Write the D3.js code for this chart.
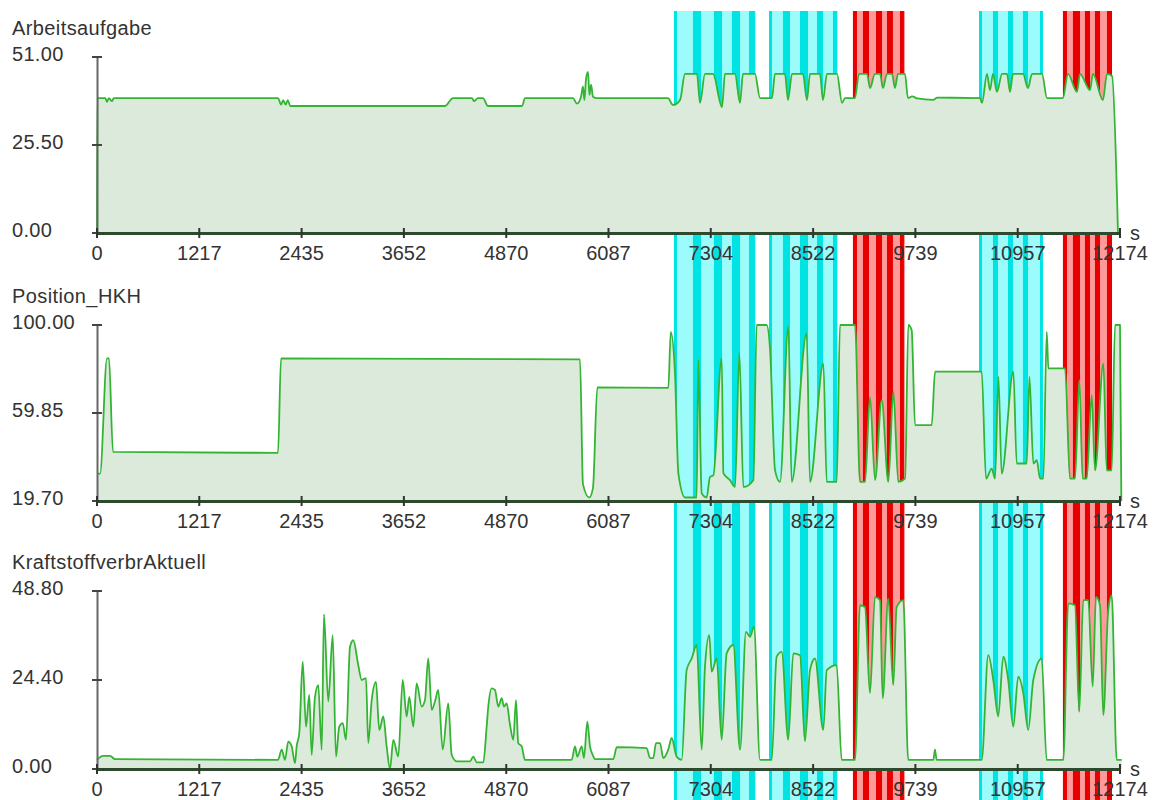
<!DOCTYPE html>
<html>
<head>
<meta charset="utf-8">
<script src="https://cdn.jsdelivr.net/npm/d3@7"></script>
<style>
  body { margin: 0; background: #fff; }
  svg text { font-family: "Liberation Sans", Arial, sans-serif; fill: #333; }
</style>
</head>
<body>
<script>
var width = 1155,
    height = 800;

// x ticks (seconds)
var xTicks = [0, 1217, 2435, 3652, 4870, 6087, 7304, 8522, 9739, 10957, 12174];

// highlighted cycles: [start, end], dark stripes inside
var cyanBands = [
  {start: 6866, end: 7842, stripes: [[6866, 6902], [7092, 7188], [7342, 7438], [7557, 7652], [7759, 7830]]},
  {start: 7997, end: 8818, stripes: [[7997, 8033], [8163, 8247], [8366, 8461], [8568, 8639], [8758, 8806]]},
  {start: 10496, end: 11257, stripes: [[10496, 10532], [10662, 10722], [10841, 10900], [11019, 11079], [11222, 11257]]}
];
var redBands = [
  {start: 8996, end: 9615, stripes: [[8996, 9044], [9115, 9187], [9270, 9342], [9401, 9472], [9556, 9603]]},
  {start: 11495, end: 12079, stripes: [[11495, 11543], [11614, 11698], [11757, 11817], [11876, 11936], [12019, 12079]]}
];

var arbeitsaufgabe = [
  [0,0],[5,39.1],[100,39.1],[119,38.0],[140,39.1],[179,38.2],[200,39.1],[2154,39.1],[2190,37.2],[2215,38.5],
  [2245,37.2],[2270,38.5],[2300,36.8],[4141,36.8],[4236,39.1],[4463,39.1],[4486,38.2],[4534,39.1],[4593,39.1],
  [4653,36.8],[5058,36.8],[5093,39.1],[5664,39.1],[5712,37.5],[5760,39.5],[5783,42.5],[5800,38.5],[5819,44.5],
  [5843,46.7],[5860,40.0],[5880,43.0],[5902,39.5],[5950,39.1],[6795,39.1],[6854,37.1],[6938,38.5],[6997,46.1],
  [7140,46.1],[7176,37.7],[7235,46.1],[7330,46.1],[7438,36.5],[7473,46.1],[7592,46.1],[7652,37.7],[7687,46.1],
  [7830,46.1],[7890,39.1],[8033,39.1],[8068,46.1],[8187,46.1],[8223,38.5],[8271,46.1],[8401,46.1],[8449,38.5],
  [8485,46.1],[8604,46.1],[8639,38.5],[8687,46.1],[8806,46.1],[8866,37.7],[8901,39.1],[9020,39.1],[9068,46.1],
  [9163,46.1],[9199,42.0],[9258,46.1],[9318,46.1],[9353,42.0],[9401,46.1],[9461,46.1],[9496,42.0],[9532,46.1],
  [9615,46.1],[9651,39.1],[9700,39.6],[9760,39.0],[9950,38.6],[10000,39.2],[10508,39.1],[10532,37.7],[10591,46.1],
  [10627,41.4],[10662,46.1],[10710,40.9],[10770,46.1],[10829,46.1],[10865,40.9],[10900,46.1],[11020,46.1],
  [11079,42.0],[11127,46.1],[11246,46.1],[11305,39.1],[11495,39.1],[11555,46.1],[11662,40.9],[11698,46.1],
  [11817,41.4],[11852,46.1],[11971,38.5],[12019,46.1],[12079,45.5],[12150,0]
];

var positionHKH = [
  [0,32.2],[36,32.2],[119,84.8],[143,84.8],[190,42.1],[2154,41.7],[2190,84.8],[5748,84.3],[5783,27.4],[5858,21.3],
  [5902,25.6],[5954,71.5],[6799,71.3],[6828,96.9],[6879,77.1],[6918,32.4],[6998,21.3],[7136,21.3],[7156,84.0],
  [7196,23.2],[7255,21.3],[7295,30.7],[7335,31.4],[7434,84.8],[7454,32.4],[7533,29.2],[7593,26.1],[7644,87.1],
  [7692,26.1],[7811,29.2],[7850,100],[7969,100],[8009,89.3],[8069,33.7],[8128,28.4],[8227,99.2],[8267,28.4],
  [8445,96.2],[8485,28.4],[8644,82.5],[8684,28.4],[8803,28.4],[8842,100],[9021,100],[9080,28.4],[9140,28.4],
  [9199,67.2],[9259,29.2],[9338,65.7],[9417,28.4],[9477,69.5],[9536,28.4],[9616,29.9],[9655,100],[9695,97.7],
  [9735,54.3],[9933,54.3],[9973,78.7],[10528,78.7],[10580,29.9],[10647,34.5],[10687,29.9],[10727,76.4],
  [10766,32.2],[10905,78.7],[10945,36.8],[11064,36.8],[11096,76.4],[11143,36.8],[11183,38.3],[11223,29.9],
  [11262,29.9],[11302,96.9],[11322,80.2],[11520,80.2],[11579,29.9],[11639,29.9],[11690,74.9],[11730,29.9],
  [11778,29.9],[11837,68.0],[11877,33.7],[11976,82.5],[12016,33.7],[12075,33.7],[12115,100],[12174,100],[12190,19.7]
];

var kraftstoff = [
  [0,2.5],[71,3.6],[155,3.6],[214,2.7],[2154,2.5],[2198,5.3],[2237,2.5],[2276,7.5],[2317,6.2],[2356,1.6],
  [2376,6.2],[2407,9.8],[2448,29.4],[2487,11.6],[2526,20.3],[2555,3.9],[2594,19.8],[2633,23.0],[2674,5.3],
  [2701,42.4],[2752,18.5],[2805,36.7],[2844,3.4],[2883,11.6],[2924,12.6],[2963,8.0],[3011,33.5],[3050,35.3],
  [3109,28.5],[3150,24.4],[3201,24.9],[3228,7.1],[3269,18.9],[3320,23.9],[3359,10.7],[3407,14.4],[3447,6.2],
  [3487,0],[3526,8.0],[3585,3.4],[3638,24.4],[3685,14.4],[3716,19.8],[3764,11.6],[3804,23.5],[3864,17.1],
  [3903,18.9],[3942,30.3],[3983,16.2],[4022,18.5],[4061,21.7],[4114,5.3],[4180,18.0],[4221,3.9],[4280,2.1],
  [4439,2.1],[4478,3.4],[4519,1.8],[4597,1.8],[4637,11.6],[4656,17.0],[4697,22.1],[4736,21.7],[4775,17.1],
  [4816,19.4],[4843,17.1],[4875,18.0],[4915,12.1],[4954,8.0],[4986,18.9],[5013,7.1],[5054,6.2],[5093,2.5],
  [5649,2.5],[5688,6.2],[5716,3.4],[5768,6.2],[5795,3.0],[5835,13.0],[5867,6.2],[5899,3.9],[5926,2.7],
  [6144,2.7],[6185,6.0],[6541,5.7],[6581,3.0],[6620,3.0],[6652,7.1],[6700,7.1],[6739,3.0],[6798,5.3],
  [6839,8.5],[6898,3.4],[6958,2.5],[7017,27.1],[7077,30.3],[7136,34.0],[7196,5.3],[7235,28.0],[7286,36.7],
  [7315,26.7],[7374,30.3],[7434,8.0],[7493,31.7],[7572,34.0],[7652,5.3],[7723,37.6],[7771,36.2],[7818,39.0],
  [7890,2.5],[8029,2.5],[8088,30.8],[8148,32.1],[8226,8.0],[8286,31.7],[8366,31.2],[8425,7.6],[8485,27.1],
  [8544,30.3],[8643,10.7],[8684,27.1],[8802,28.5],[8862,2.5],[9020,2.5],[9080,44.9],[9139,44.4],[9199,20.8],
  [9258,47.2],[9318,46.3],[9350,19.4],[9416,46.7],[9476,23.0],[9516,44.4],[9595,46.3],[9654,2.5],[9952,2.5],
  [9972,5.3],[9992,2.5],[10528,2.5],[10606,31.2],[10666,24.4],[10725,14.4],[10785,30.8],[10844,24.4],
  [10904,11.6],[10963,25.3],[11023,20.8],[11082,10.7],[11142,24.4],[11242,30.3],[11301,2.5],[11499,2.5],
  [11558,45.4],[11638,44.9],[11689,15.7],[11737,46.3],[11796,46.3],[11849,22.6],[11888,47.2],[11936,44.9],
  [11975,14.8],[12034,43.5],[12075,47.6],[12135,2.5],[12194,2.5]
];

var panels = [
  {title: "Arbeitsaufgabe", data: arbeitsaufgabe, yTicks: [0, 25.5, 51], top: 57, bottom: 233},
  {title: "Position_HKH", data: positionHKH, yTicks: [19.7, 59.85, 100], top: 325, bottom: 501},
  {title: "KraftstoffverbrAktuell", data: kraftstoff, yTicks: [0, 24.4, 48.8], top: 591, bottom: 769}
];

var svg = d3.select("body").append("svg")
    .attr("width", width)
    .attr("height", height);

var x = d3.scaleLinear()
    .domain([0, 12174])
    .range([97, 1120]);

// bands behind everything
var bandG = svg.append("g");
function drawBands(list, light, dark) {
  list.forEach(function(b) {
    bandG.append("rect")
      .attr("x", x(b.start)).attr("y", 11)
      .attr("width", x(b.end) - x(b.start)).attr("height", height - 11)
      .attr("fill", light);
    b.stripes.forEach(function(s) {
      bandG.append("rect")
        .attr("x", x(s[0])).attr("y", 11)
        .attr("width", x(s[1]) - x(s[0])).attr("height", height - 11)
        .attr("fill", dark);
    });
  });
}
drawBands(cyanBands, "#9cfcfc", "#00e3e3");
drawBands(redBands, "#ff9a9a", "#e80000");

panels.forEach(function(p) {
  var yMin = p.yTicks[0], yMax = p.yTicks[2];
  var y = d3.scaleLinear().domain([yMin, yMax]).range([p.bottom, p.top]);
  var g = svg.append("g");

  var area = d3.area()
      .curve(d3.curveMonotoneX)
      .x(function(d) { return x(d[0]); })
      .y0(y(yMin))
      .y1(function(d) { return y(d[1]); });
  var line = d3.line()
      .curve(d3.curveMonotoneX)
      .x(function(d) { return x(d[0]); })
      .y(function(d) { return y(d[1]); });

  g.append("path").datum(p.data)
    .attr("d", area)
    .attr("fill", "#dbeadb");
  g.append("path").datum(p.data)
    .attr("d", line)
    .attr("fill", "none")
    .attr("stroke", "#33b533")
    .attr("stroke-width", 1.8)
    .attr("stroke-linejoin", "round");

  // y axis
  var yAxis = g.append("g")
    .attr("transform", "translate(" + x(0) + ",0)")
    .call(d3.axisLeft(y).tickValues(p.yTicks).tickSize(0).tickFormat(""));
  yAxis.select(".domain").attr("stroke", "#666").attr("stroke-width", 2);
  p.yTicks.forEach(function(t) {
    g.append("line")
      .attr("x1", x(0) - 5).attr("x2", x(0) + 5)
      .attr("y1", y(t)).attr("y2", y(t))
      .attr("stroke", "#444").attr("stroke-width", 2);
    g.append("text")
      .attr("x", 12).attr("y", y(t) - 1)
      .attr("dominant-baseline", "middle")
      .style("font-size", "20px")
      .style("letter-spacing", "0.3px")
      .text(d3.format(".2f")(t));
  });

  // x axis
  var xAxis = g.append("g")
    .attr("transform", "translate(0," + p.bottom + ")")
    .call(d3.axisBottom(x).tickValues(xTicks).tickSize(0).tickFormat(""));
  xAxis.select(".domain").attr("stroke", "#2e4a2e").attr("stroke-width", 3);
  xTicks.forEach(function(t) {
    g.append("line")
      .attr("x1", x(t)).attr("x2", x(t))
      .attr("y1", p.bottom - 5).attr("y2", p.bottom + 5)
      .attr("stroke", "#333").attr("stroke-width", 2);
    g.append("text")
      .attr("x", x(t)).attr("y", p.bottom + 27)
      .attr("text-anchor", "middle")
      .style("font-size", "20px")
      .text(t);
  });
  g.append("text")
    .attr("x", 1130).attr("y", p.bottom + 7)
    .style("font-size", "20px")
    .text("s");

  g.append("text")
    .attr("x", 12).attr("y", p.top - 22)
    .style("font-size", "20px")
    .style("letter-spacing", "0.4px")
    .text(p.title);
});
</script>
</body>
</html>
